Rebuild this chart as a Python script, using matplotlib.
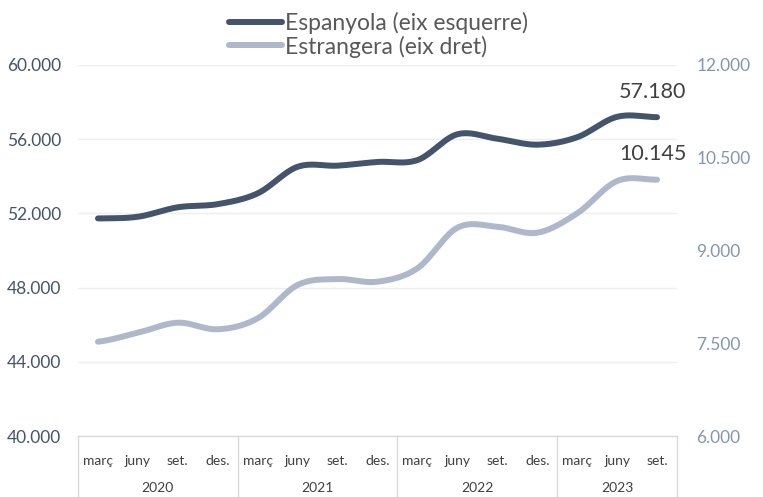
import numpy as np
import matplotlib.pyplot as plt
from matplotlib.transforms import blended_transform_factory
from matplotlib.ticker import FuncFormatter

plt.rcParams['font.family'] = ['Lato', 'DejaVu Sans']

# data
years = ['2020', '2021', '2022', '2023']
months = ['març', 'juny', 'set.', 'des.'] * 3 + ['març', 'juny', 'set.']
espanyola = [51730, 51820, 52330, 52500, 53080, 54510, 54570, 54770, 54870,
             56260, 56020, 55700, 56100, 57200, 57180]
estrangera = [7528, 7673, 7835, 7728, 7906, 8444, 8540, 8497, 8713,
              9369, 9385, 9288, 9601, 10123, 10145]

dark = '#44546a'
light = '#adb9ca'


def smooth(y, n=20):
    # catmull-rom curve through the points, like excel's smoothed line
    y = np.asarray(y, float)
    p = np.concatenate([[y[0]], y, [y[-1]]])
    xs, ys = [], []
    t = np.linspace(0, 1, n, endpoint=False)
    for i in range(1, len(p) - 2):
        p0, p1, p2, p3 = p[i - 1], p[i], p[i + 1], p[i + 2]
        v = 0.5 * ((2 * p1) + (-p0 + p2) * t + (2 * p0 - 5 * p1 + 4 * p2 - p3) * t ** 2
                   + (-p0 + 3 * p1 - 3 * p2 + p3) * t ** 3)
        xs.append(i - 1 + t)
        ys.append(v)
    xs.append([len(y) - 1])
    ys.append([y[-1]])
    return np.concatenate(xs), np.concatenate(ys)


fig = plt.figure(figsize=(7.63, 4.97), dpi=100)
ax = fig.add_axes([78 / 763, 1 - 436.3 / 497, (677 - 78) / 763, (436.3 - 64.8) / 497])
ax2 = ax.twinx()

x = np.arange(len(months))
sx, sy = smooth(espanyola)
l1, = ax.plot(sx, sy, color=dark, lw=4.3, solid_capstyle='round', zorder=3)
sx, sy = smooth(estrangera)
l2, = ax2.plot(sx, sy, color=light, lw=4.3, solid_capstyle='round', zorder=3)

ax.set_xlim(-0.5, len(months) - 0.5)
ax.set_ylim(40000, 60000)
ax2.set_ylim(6000, 12000)
ax.set_yticks(np.arange(40000, 60001, 4000))
ax2.set_yticks(np.arange(6000, 12001, 1500))
fmt = FuncFormatter(lambda v, p: f'{v:,.0f}'.replace(',', '.'))
ax.yaxis.set_major_formatter(fmt)
ax2.yaxis.set_major_formatter(fmt)
ax.tick_params(axis='y', length=0, pad=12, labelsize=12.5, labelcolor='#44546a')
ax2.tick_params(axis='y', length=0, pad=14, labelsize=12.5, labelcolor='#8497b0')
ax.set_xticks([])
ax.grid(axis='y', color='#efefef', lw=1)
ax.set_axisbelow(True)
for a in (ax, ax2):
    for s in ('left', 'right', 'top', 'bottom'):
        a.spines[s].set_visible(False)

# multi-level category axis
tr = blended_transform_factory(ax.transData, fig.transFigure)
ybox = 1 - 436.3 / 497
ax.plot([-0.5, len(months) - 0.5], [ybox, ybox], transform=tr, color='#d9d9d9', lw=1, clip_on=False)
for b in [-0.5, 3.5, 7.5, 11.5, len(months) - 0.5]:
    ax.plot([b, b], [ybox, 0], transform=tr, color='#d9d9d9', lw=1, clip_on=False)
for i, m in enumerate(months):
    ax.text(i, 1 - 461 / 497, m, transform=tr, ha='center', va='center', fontsize=10, color='#404040')
for j, yr in enumerate(years):
    start = j * 4
    end = min(start + 3, len(months) - 1)
    ax.text((start + end) / 2, 1 - 488 / 497, yr, transform=tr, ha='center', va='center',
            fontsize=10, color='#404040')

# end labels
ax.annotate(f'{espanyola[-1]:,.0f}'.replace(',', '.'), (x[-1], espanyola[-1]), xytext=(-3, 14),
            textcoords='offset points', ha='center', fontsize=15.5, color='#404040')
ax2.annotate(f'{estrangera[-1]:,.0f}'.replace(',', '.'), (x[-1], estrangera[-1]), xytext=(-3, 14),
             textcoords='offset points', ha='center', fontsize=15.5, color='#404040')

fig.legend([l1, l2], ['Espanyola (eix esquerre)', 'Estrangera (eix dret)'],
           loc='upper left', bbox_to_anchor=(220 / 763, 1 - 3 / 497), frameon=False,
           fontsize=16.5, handlelength=2.3, handletextpad=0.15, labelspacing=0.05,
           labelcolor='#595959', borderaxespad=0)

fig.savefig('out.png', dpi=100)
